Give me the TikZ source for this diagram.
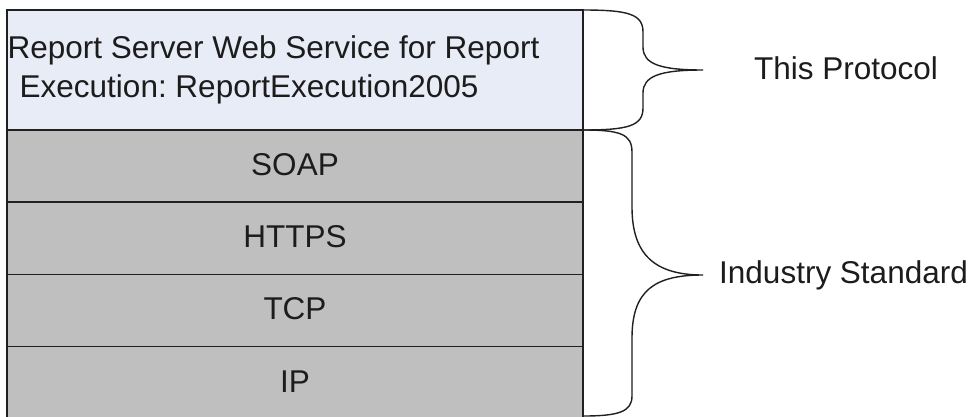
\documentclass[tikz,border=0pt]{standalone}
\usepackage{fontspec}
\setmainfont{Liberation Sans}
\frenchspacing
\definecolor{topfill}{RGB}{232,236,246}
\definecolor{layerfill}{RGB}{191,191,191}
\definecolor{edge}{RGB}{32,32,32}
\definecolor{ink}{RGB}{28,28,28}
\begin{document}
\begin{tikzpicture}[x=1pt,y=-1pt,
  layer/.style={draw=edge, line width=1.8pt, fill=layerfill, minimum width=576pt, minimum height=72pt, inner sep=0pt, outer sep=0pt, anchor=north west},
  txt/.style={text=ink, font=\fontsize{31.5}{37}\selectfont, inner sep=0pt, anchor=base},
  brace/.style={draw=edge, line width=1.4pt}]
\useasboundingbox (0,0) rectangle (975,416);
\fill[white] (0,0) rectangle (975,416);
\begin{scope}
\clip (0,0) rectangle (975,416);
\node[layer, fill=topfill, minimum height=120pt] (proto) at (7,10) {};
\node[layer] (soap) at (7,130) {};
\node[layer] (https) at (7,202.5) {};
\node[layer] (tcp) at (7,274.5) {};
\node[layer] (ip) at (7,346.5) {};

\node[txt, anchor=base west] (l1) at (7.5,58) {Report Server Web Service for Report};
\node[txt, anchor=base west] (l2) at (19.5,97) {Execution: ReportExecution2005};
\node[txt] (soapt) at (295,175) {SOAP};
\node[txt] (httpst) at (295,247) {HTTPS};
\node[txt] (tcpt) at (295,319) {TCP};
\node[txt] (ipt) at (295,392) {IP};

\coordinate (tip1) at (703,70);
\coordinate (tip2) at (703,275);
\coordinate (b2end) at (583,416);

\draw[brace] (proto.north east) .. controls (628,10) and (643,14) .. (643,32) -- (643,47)
  .. controls (643,64) and (660,70) .. (tip1)
  .. controls (660,70) and (643,76) .. (643,93) -- (643,108)
  .. controls (643,126) and (628,130) .. (proto.south east);

\draw[brace] (soap.north east) .. controls (620,130) and (632,134) .. (632,152) -- (632,207)
  .. controls (632,255) and (655,275) .. (tip2)
  .. controls (655,275) and (632,290) .. (632,338) -- (632,396)
  .. controls (632,412) and (618,416) .. (b2end);

\node[txt, anchor=base west] (thisp) at (754,79) {This Protocol};
\node[txt, anchor=base west] (indus) at (719,283) {Industry Standard};
\end{scope}
\end{tikzpicture}
\end{document}
